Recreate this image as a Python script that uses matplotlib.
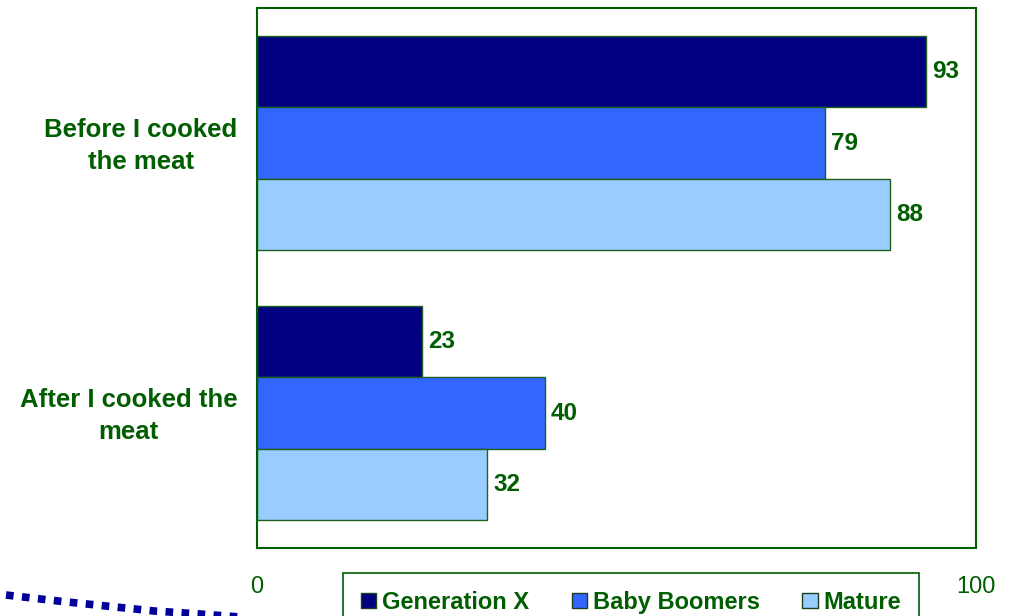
import numpy as np
import matplotlib
matplotlib.use("Agg")
import matplotlib.pyplot as plt
from matplotlib.lines import Line2D
from matplotlib.patches import Patch

plt.rcParams['font.family'] = ['Liberation Sans', 'DejaVu Sans']

# data
categories = ["Before I cooked\nthe meat", "After I cooked the\nmeat"]
series_names = ["Generation X", "Baby Boomers", "Mature"]
gen_x = [93, 23]
baby_boomers = [79, 40]
mature = [88, 32]
x_ticks = [0, 100]

colors = ["#000080", "#3366FF", "#99CCFF"]
green = "#005E00"
edge = "#1E5E1E"

fig = plt.figure(figsize=(10.16, 6.16), dpi=100)
ax = fig.add_axes([257 / 1016, 1 - 548 / 616, 719 / 1016, 540 / 616])

y = np.arange(len(categories))
h = 0.264
for i, (name, vals) in enumerate(zip(series_names, [gen_x, baby_boomers, mature])):
    pos = y + (i - 1) * h
    ax.barh(pos, vals, height=h, color=colors[i], edgecolor=edge, linewidth=1, label=name)
    for p, v in zip(pos, vals):
        ax.annotate(str(v), (v, p), xytext=(4.5, 0), textcoords="offset points",
                    ha="left", va="center", fontsize=17.5, fontweight="bold", color=green)

ax.set_xlim(0, 100)
ax.set_ylim(1.5, -0.5)
ax.set_xticks(x_ticks)
ax.set_xticklabels([str(t) for t in x_ticks], fontsize=17, color=green)
ax.tick_params(axis="x", length=0, pad=20)
ax.set_yticks([])
for s in ax.spines.values():
    s.set_color(green)
    s.set_linewidth(1.5)

# category labels
for yi, lab in zip(y, categories):
    ax.annotate(lab, (0, yi), xytext=(-14, -2.5), textcoords="offset points",
                ha="right", va="center", multialignment="center",
                fontsize=18.5, fontweight="bold", color=green, linespacing=1.42)

handles = [Patch(facecolor=c, edgecolor="#1E3E1E", linewidth=1) for c in colors]
leg = fig.legend(handles, series_names, loc="upper left",
                 bbox_to_anchor=(343 / 1016, 1 - 573 / 616), ncol=3,
                 fancybox=False, framealpha=1, edgecolor=green,
                 handlelength=0.65, handleheight=0.65, handletextpad=0.25,
                 columnspacing=1.8, borderpad=0.75, borderaxespad=0,
                 prop={"size": 17, "weight": "bold"})
leg.get_frame().set_linewidth(1.2)
for t in leg.get_texts():
    t.set_color(green)

# decorative dotted arc in the lower-left corner (slide artwork)
arc_x = np.array([6, 58, 106, 154, 200, 240]) / 1016
arc_y = 1 - np.array([595, 601, 606, 611, 614, 617]) / 616
fig.add_artist(Line2D(arc_x, arc_y, transform=fig.transFigure, color="#000099",
                      linewidth=5.5, linestyle=(0, (1, 1.1)), dash_capstyle="butt"))

fig.savefig("out.png", dpi=100)
